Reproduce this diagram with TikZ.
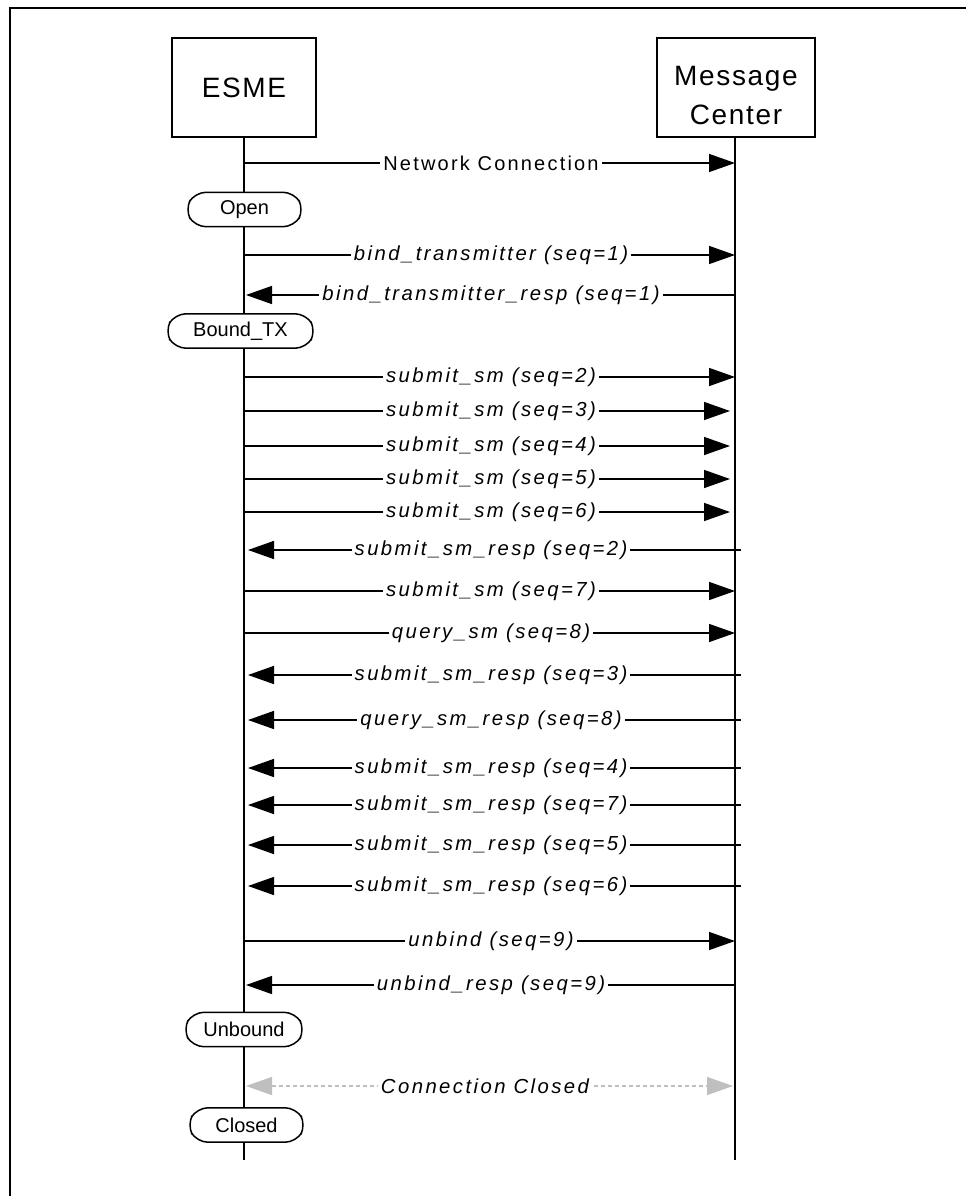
\documentclass[tikz,border=0pt]{standalone}
\usepackage{fontspec}
\setmainfont{Liberation Sans}
\newfontfamily\labfont[LetterSpace=12]{Liberation Sans}
\newfontfamily\nlfont[LetterSpace=11]{Liberation Sans}
\newfontfamily\hdfont[LetterSpace=6]{Liberation Sans}
\usetikzlibrary{arrows.meta}
\begin{document}
\begin{tikzpicture}[x=1pt,y=-1pt,
  actor/.style={draw,line width=1.5pt,minimum width=144pt,minimum height=99pt,align=center,
    inner sep=0pt,font=\hdfont\fontsize{28}{39}\selectfont},
  hdtext/.style={align=center,inner sep=0pt,font=\hdfont\fontsize{28}{39}\selectfont},
  statebox/.style={fill=white,minimum width=120pt,
    minimum height=34pt,inner sep=0pt,font=\fontsize{20}{24}\selectfont},
  stateedge/.style={line width=1.5pt,rounded corners=11pt},
  life/.style={line width=1.5pt},
  msg/.style={line width=1.5pt,-{Triangle[length=26pt,width=18pt]}},
  lbl/.style={fill=white,inner sep=3pt,font=\labfont\fontsize{20.3}{24}\selectfont\itshape},
  ulbl/.style={fill=white,inner sep=3pt,font=\nlfont\fontsize{20}{24}\selectfont},
  closed/.style={line width=1.2pt,draw=black!25,dashed,dash pattern=on 4pt off 3pt,
    {Triangle[length=26pt,width=18pt,fill=black!25]}-{Triangle[length=26pt,width=18pt,fill=black!25]}},
]
\useasboundingbox (0,0) rectangle (966,1196);
% frame
\coordinate (fa) at (10,1196);
\coordinate (fb) at (10,8);
\coordinate (fc) at (966,8);
\draw[line width=2.5pt] (fa) -- (fb) -- (fc);

% actors
\node[actor] (esme) at (244,87.5) {ESME};
\node[actor,minimum width=158pt] (mc) at (736,87.5) {};
\node[hdtext] (mclabel) at ([yshift=-8pt]mc.center) {Message\\Center};

\coordinate (eend) at (244,1160);
\coordinate (mend) at (735,1160);
\draw[life] (esme.south) -- (eend);
\draw[life] (mc.south -| mend) -- (mend);

% states
\node[statebox,minimum width=119pt] (open) at (244.5,209.5) {Open};
\node[statebox,minimum width=151pt] (bound) at (240.5,331) {Bound\_TX};
\node[statebox,minimum width=122pt] (unbound) at (244,1029.5) {Unbound};
\node[statebox,minimum width=119pt] (closedst) at (246.5,1125) {Closed};
\foreach \st in {open,bound,unbound,closedst}{
  \draw[stateedge] ([xshift=10pt]\st.north west) -- ([xshift=-10pt]\st.north east)
    -- (\st.east) -- ([xshift=-10pt]\st.south east) -- ([xshift=10pt]\st.south west)
    -- (\st.west) -- cycle;
}

% messages: y, start x, end x, label, style
\foreach \n/\y/\xa/\xb/\t/\s in {
  1/163/244/735/{Network Connection}/ulbl,
  2/255/244/735/{bind\_transmitter (seq=1)}/lbl,
  3/295/735/246/{bind\_transmitter\_resp (seq=1)}/lbl,
  4/377/244/735/{submit\_sm (seq=2)}/lbl,
  5/411/244/730/{submit\_sm (seq=3)}/lbl,
  6/446/244/730/{submit\_sm (seq=4)}/lbl,
  7/479/244/730/{submit\_sm (seq=5)}/lbl,
  8/512/244/730/{submit\_sm (seq=6)}/lbl,
  9/550/741/248/{submit\_sm\_resp (seq=2)}/lbl,
  10/591/244/735/{submit\_sm (seq=7)}/lbl,
  11/633/244/735/{query\_sm (seq=8)}/lbl,
  12/675/741/248/{submit\_sm\_resp (seq=3)}/lbl,
  13/720/741/248/{query\_sm\_resp (seq=8)}/lbl,
  14/768/741/248/{submit\_sm\_resp (seq=4)}/lbl,
  15/805/741/248/{submit\_sm\_resp (seq=7)}/lbl,
  16/845/741/248/{submit\_sm\_resp (seq=5)}/lbl,
  17/886/741/248/{submit\_sm\_resp (seq=6)}/lbl,
  18/941/244/735/{unbind (seq=9)}/lbl,
  19/985/735/246/{unbind\_resp (seq=9)}/lbl}
{
  \coordinate (s\n) at (\xa,\y);
  \coordinate (e\n) at (\xb,\y);
  \coordinate (m\n) at (491,\y);
  \draw[msg] (s\n) -- (e\n);
  \node[\s] (t\n) at (m\n) {\t};
}

% connection closed
\coordinate (cs) at (246,1086);
\coordinate (ce) at (733,1086);
\coordinate (cm) at (485,1086);
\draw[closed] (cs) -- (ce);
\node[lbl] (ct) at (cm) {Connection Closed};
\end{tikzpicture}
\end{document}
